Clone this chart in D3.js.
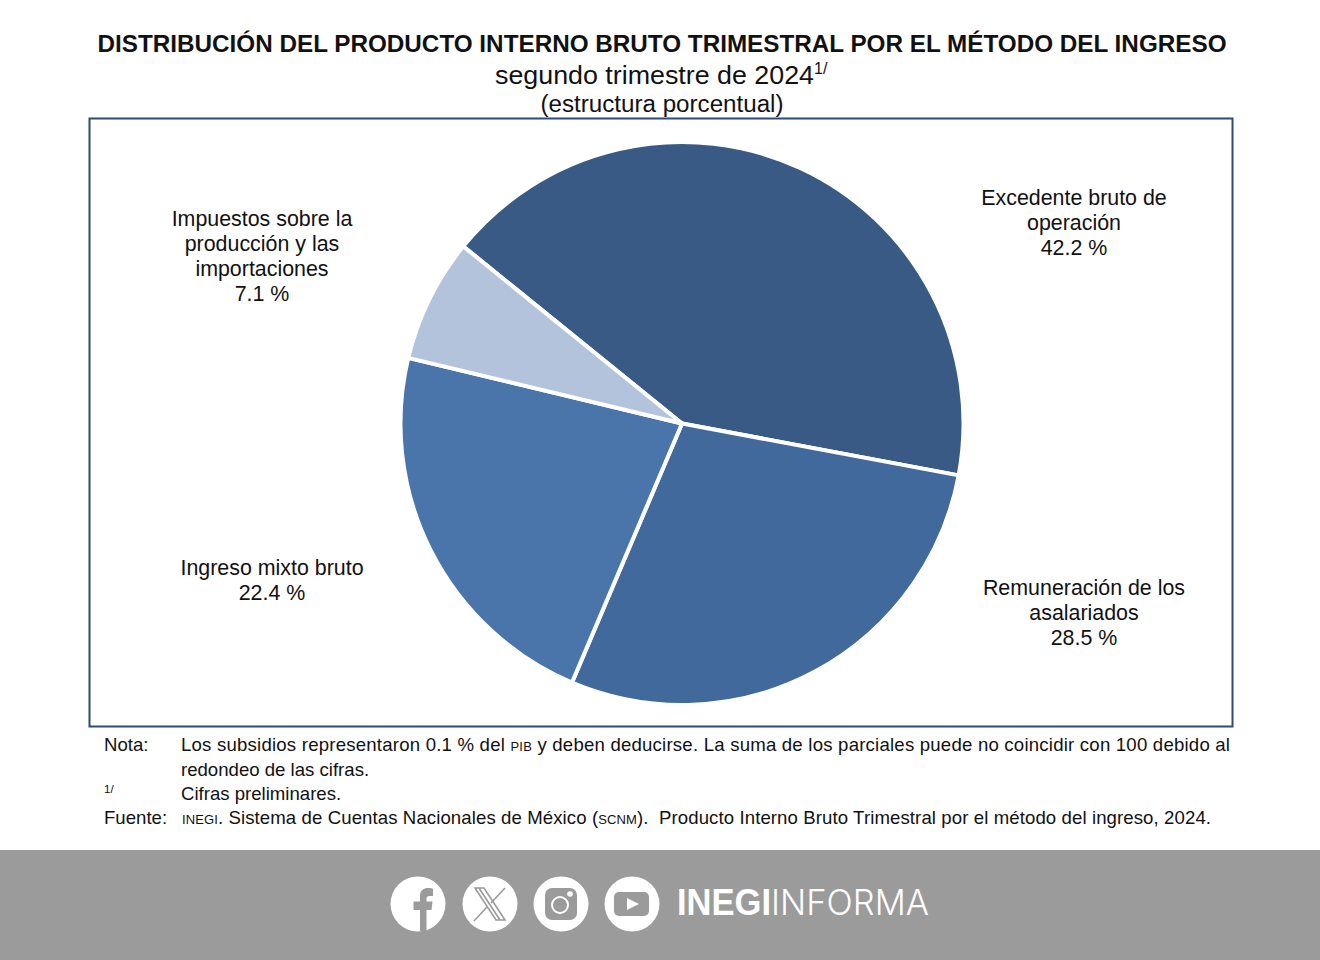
<!DOCTYPE html>
<html><head><meta charset="utf-8">
<script src="https://cdn.jsdelivr.net/npm/d3@7"></script>
<style>
html,body{margin:0;padding:0;background:#fff}
svg{display:block}
text{font-family:"Liberation Sans",Arial,sans-serif;fill:#111;white-space:pre}
</style></head><body><svg id="c" width="1320" height="960"></svg>
<script>
const categories = ["Excedente bruto de operación","Remuneración de los asalariados","Ingreso mixto bruto","Impuestos sobre la producción y las importaciones"];
const values = [42.2,28.5,22.4,7.1];
const colors = ["#395a85","#41699b","#4a75ab","#b4c3dc"];
const labelLines = [["Excedente bruto de","operación","42.2 %"],["Remuneración de los","asalariados","28.5 %"],["Ingreso mixto bruto","22.4 %"],["Impuestos sobre la","producción y las","importaciones","7.1 %"]];
const labelAnchors = [[1074,205],[1084,595],[272,575],[262,226]];
const labelStep = 25;

const svg = d3.select("#c");
function t(x,y,s,size,opt={}){
  const e = svg.append("text").attr("x",x).attr("y",y).attr("font-size",size).text(s);
  if(opt.anchor) e.attr("text-anchor",opt.anchor);
  if(opt.weight) e.attr("font-weight",opt.weight);
  if(opt.len) e.attr("textLength",opt.len).attr("lengthAdjust","spacingAndGlyphs");
  return e;
}
t(662,52,"DISTRIBUCIÓN DEL PRODUCTO INTERNO BRUTO TRIMESTRAL POR EL MÉTODO DEL INGRESO",23.5,{anchor:"middle",weight:"bold",len:1129});
t(495,84,"segundo trimestre de 2024",25.5,{len:319});
t(814,74,"1/",16);
t(662,112,"(estructura porcentual)",23,{anchor:"middle",len:243});

svg.append("rect").attr("x",89.5).attr("y",118.5).attr("width",1143).attr("height",608).attr("fill","#fff").attr("stroke","#2f4c6e").attr("stroke-width",2);

const cx=682, cy=423.5, R=281.5;
const pie = d3.pie().sort(null).startAngle(-51*Math.PI/180).endAngle(309*Math.PI/180);
const arc = d3.arc().innerRadius(0).outerRadius(R);
svg.append("g").attr("transform",`translate(${cx},${cy})`)
  .selectAll("path").data(pie(values)).join("path")
  .attr("d",arc).attr("fill",(d,i)=>colors[i]).attr("stroke","#fff").attr("stroke-width",4).attr("stroke-linejoin","round");

labelLines.forEach((lines,i)=>{
  lines.forEach((l,j)=>t(labelAnchors[i][0],labelAnchors[i][1]+j*labelStep-(j>1?0.5:0),l,21.4,{anchor:"middle"}));
});

// notes
const fs=18.6, sc=13;
t(104,751,"Nota:",fs);
const line1 = svg.append("text").attr("x",181).attr("y",751).attr("font-size",fs).attr("textLength",1049).attr("lengthAdjust","spacing");
line1.append("tspan").text("Los subsidios representaron 0.1 % del ");
line1.append("tspan").attr("font-size",sc).text("PIB");
line1.append("tspan").text(" y deben deducirse. La suma de los parciales puede no coincidir con 100 debido al");
t(181,776,"redondeo de las cifras.",fs);
t(104,793,"1/",11.5);
t(181,800,"Cifras preliminares.",fs);
t(104,824,"Fuente:",fs);
const line4 = svg.append("text").attr("x",182).attr("y",824).attr("font-size",fs).attr("textLength",1029).attr("lengthAdjust","spacing");
line4.append("tspan").attr("font-size",sc).text("INEGI");
line4.append("tspan").text(". Sistema de Cuentas Nacionales de México (");
line4.append("tspan").attr("font-size",sc).text("SCNM");
line4.append("tspan").text(").  Producto Interno Bruto Trimestral por el método del ingreso, 2024.");

// footer
const band="#9b9b9b";
svg.append("rect").attr("x",0).attr("y",850).attr("width",1320).attr("height",110).attr("fill",band);
const icons=[418,490,561,632];
svg.selectAll("circle.i").data(icons).join("circle").attr("class","i").attr("cx",d=>d).attr("cy",904).attr("r",27.5).attr("fill","#fff");
// facebook f
svg.append("path").attr("fill",band).attr("d","M420 931.5V910H413.5V901.5H420V896C420 890 424 888 428 888C430 888 432 888 433 889V896H430C427 896 426.5 897 426.5 899V901.5H432.5L431.5 910H426.5V931.5Z");
// X
svg.append("path").attr("fill","none").attr("stroke",band).attr("stroke-width",1.6).attr("d","M475 888H484L505 920H496Z M479 888L500 920");
svg.append("path").attr("fill","none").attr("stroke",band).attr("stroke-width",1.6).attr("d","M505 888L491 903M487 907L474 921");
// instagram
svg.append("rect").attr("x",545).attr("y",888).attr("width",32).attr("height",32).attr("rx",7).attr("fill",band);
svg.append("circle").attr("cx",560).attr("cy",905).attr("r",8).attr("fill","none").attr("stroke","#fff").attr("stroke-width",2);
svg.append("circle").attr("cx",570).attr("cy",894).attr("r",2.8).attr("fill","#fff");
// youtube
svg.append("rect").attr("x",614).attr("y",892).attr("width",35).attr("height",24).attr("rx",5).attr("fill",band);
svg.append("path").attr("fill","#fff").attr("d","M627 898L639 904L627 910Z");
// wordmark
const w=svg.append("text").attr("x",677).attr("y",915).attr("font-size",36).attr("textLength",252).attr("lengthAdjust","spacingAndGlyphs").style("fill","#fff");
w.append("tspan").attr("font-weight","bold").style("fill","#fff").text("INEGI");
w.append("tspan").attr("font-family","Inter").attr("font-weight",300).style("fill","#fff").text("INFORMA");
</script></body></html>
